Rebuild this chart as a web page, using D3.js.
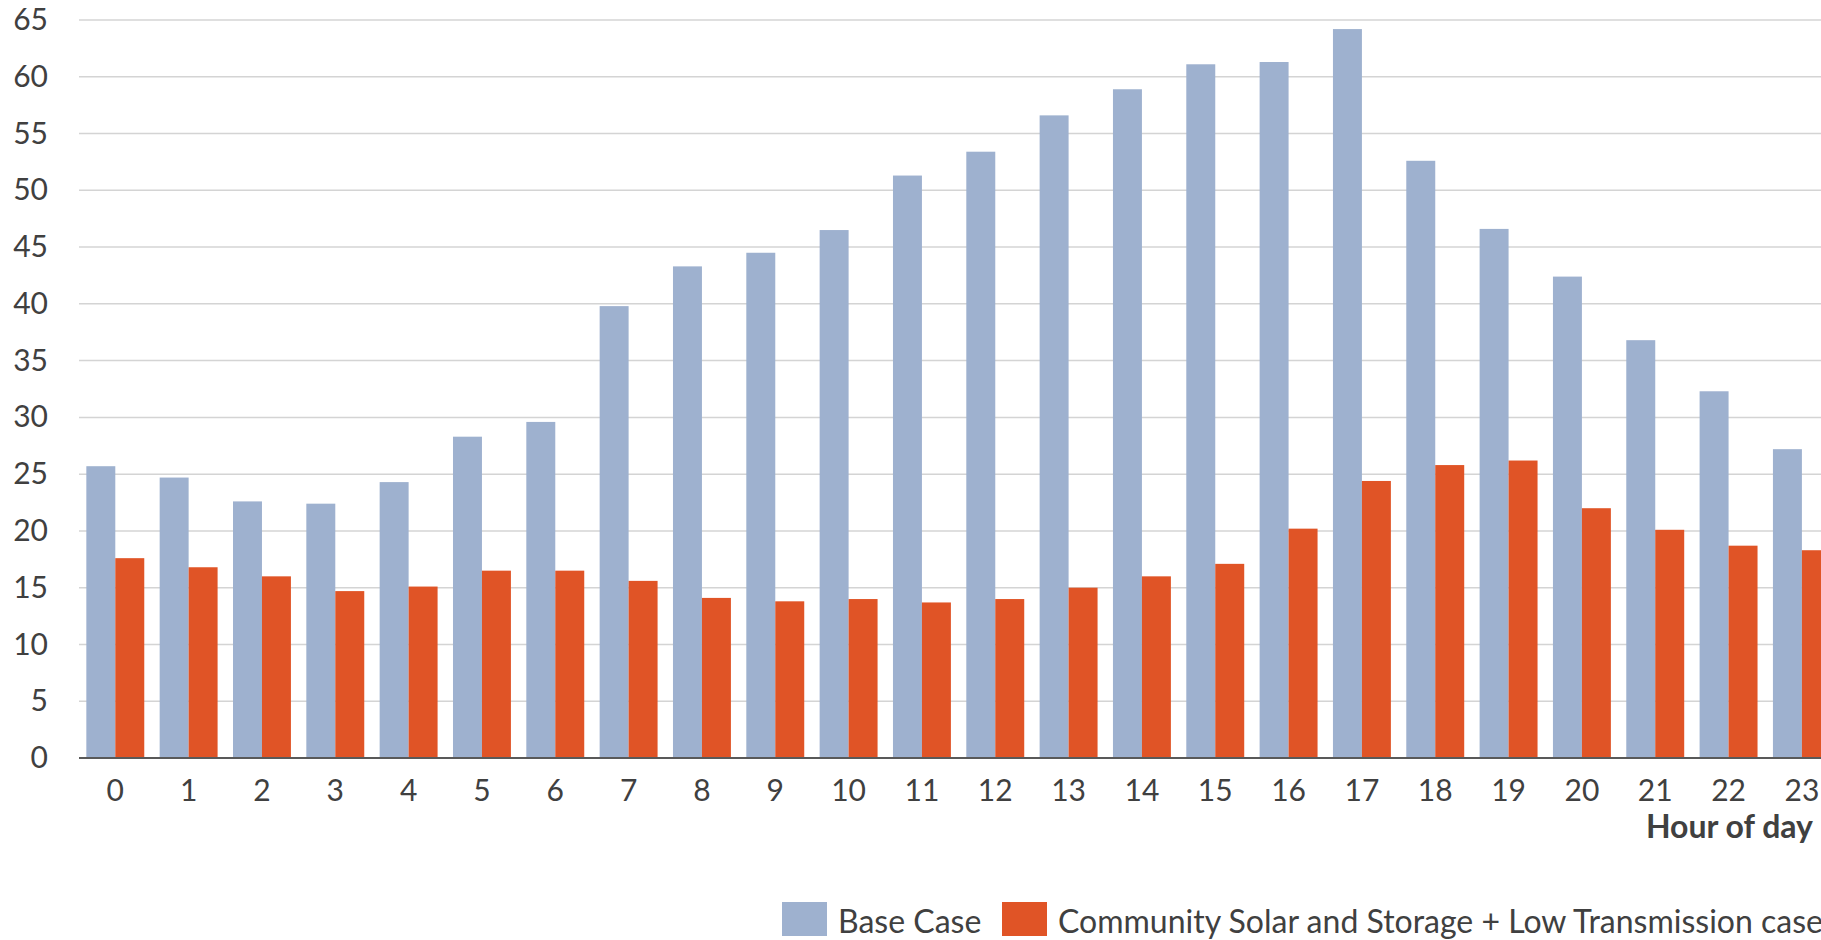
<!DOCTYPE html>
<html>
<head>
<meta charset="utf-8">
<script src="https://cdn.jsdelivr.net/npm/d3@7"></script>
<style>
  html, body { margin: 0; padding: 0; background: #fff; overflow: hidden; }
  svg { display: block; font-family: Lato, "Open Sans", sans-serif; }
</style>
</head>
<body>
<svg id="chart" width="1821" height="940"></svg>
<script>
// hours on the x axis
const hours = d3.range(0, 24).map(String);

// Base Case
const baseCase = [25.7, 24.7, 22.6, 22.4, 24.3, 28.3, 29.6, 39.8, 43.3, 44.5, 46.5, 51.3,
                  53.4, 56.6, 58.9, 61.1, 61.3, 64.2, 52.6, 46.6, 42.4, 36.8, 32.3, 27.2];

// Community Solar and Storage + Low Transmission case
const lowTrans = [17.6, 16.8, 16.0, 14.7, 15.1, 16.5, 16.5, 15.6, 14.1, 13.8, 14.0, 13.7,
                  14.0, 15.0, 16.0, 17.1, 20.2, 24.4, 25.8, 26.2, 22.0, 20.1, 18.7, 18.3];

const seriesNames = ["Base Case", "Community Solar and Storage + Low Transmission case"];
const seriesColors = ["#9eb1cf", "#e05426"];
const yTicks = d3.range(0, 70, 5);

const svg = d3.select("#chart");
const W = 1821;
const plotLeft = 79, plotTop = 20, plotBottom = 758;
const step = 73.3;

const x = d3.scaleBand()
    .domain(hours)
    .range([plotLeft, plotLeft + step * hours.length])
    .paddingInner(0.21)
    .paddingOuter(0.1);

const xs = d3.scaleBand()
    .domain([0, 1])
    .range([0, x.bandwidth()]);

const y = d3.scaleLinear()
    .domain([0, 65])
    .range([plotBottom, plotTop]);

// gridlines
svg.append("g")
    .selectAll("line")
    .data(yTicks.filter(d => d > 0))
    .join("line")
    .attr("x1", plotLeft)
    .attr("x2", W)
    .attr("y1", d => y(d))
    .attr("y2", d => y(d))
    .attr("stroke", "#d4d4d4")
    .attr("stroke-width", 1.5);

// y labels
const yAxis = svg.append("g")
    .attr("transform", `translate(48,0)`)
    .call(d3.axisLeft(y).tickValues(yTicks).tickSize(0).tickPadding(0));
yAxis.select(".domain").remove();
yAxis.selectAll("text")
    .attr("font-family", "Lato, sans-serif")
    .attr("font-size", 30)
    .attr("fill", "#404040");

// bars
const data = hours.map((h, i) => ({ hour: h, vals: [baseCase[i], lowTrans[i]] }));

const groups = svg.append("g")
    .selectAll("g")
    .data(data)
    .join("g")
    .attr("transform", d => `translate(${x(d.hour)},0)`);

groups.selectAll("rect")
    .data(d => d.vals.map((v, k) => ({ k, v })))
    .join("rect")
    .attr("x", d => xs(d.k))
    .attr("width", xs.bandwidth())
    .attr("y", d => y(d.v))
    .attr("height", d => y(0) - y(d.v))
    .attr("fill", d => seriesColors[d.k]);

// baseline
svg.append("line")
    .attr("x1", plotLeft)
    .attr("x2", W)
    .attr("y1", y(0))
    .attr("y2", y(0))
    .attr("stroke", "#595959")
    .attr("stroke-width", 2);

// x labels
const xAxis = svg.append("g")
    .attr("transform", `translate(0,${y(0)})`)
    .call(d3.axisBottom(x).tickSize(0).tickPadding(0));
xAxis.select(".domain").remove();
xAxis.selectAll("text")
    .attr("font-family", "Lato, sans-serif")
    .attr("font-size", 30)
    .attr("fill", "#404040")
    .attr("dy", null)
    .attr("y", 43);

// axis title
svg.append("text")
    .attr("x", 1813)
    .attr("y", 838)
    .attr("text-anchor", "end")
    .attr("font-size", 32)
    .attr("font-weight", "bold")
    .attr("fill", "#404040")
    .text("Hour of day");

// legend
const legendItems = [
    { name: seriesNames[0], color: seriesColors[0], x: 782 },
    { name: seriesNames[1], color: seriesColors[1], x: 1002 }
];
const lg = svg.append("g")
    .selectAll("g")
    .data(legendItems)
    .join("g")
    .attr("transform", d => `translate(${d.x},902)`);
lg.append("rect")
    .attr("width", 45)
    .attr("height", 34)
    .attr("fill", d => d.color);
lg.append("text")
    .attr("x", 56)
    .attr("y", 31)
    .attr("font-size", 32)
    .attr("fill", "#404040")
    .text(d => d.name);
</script>
</body>
</html>
